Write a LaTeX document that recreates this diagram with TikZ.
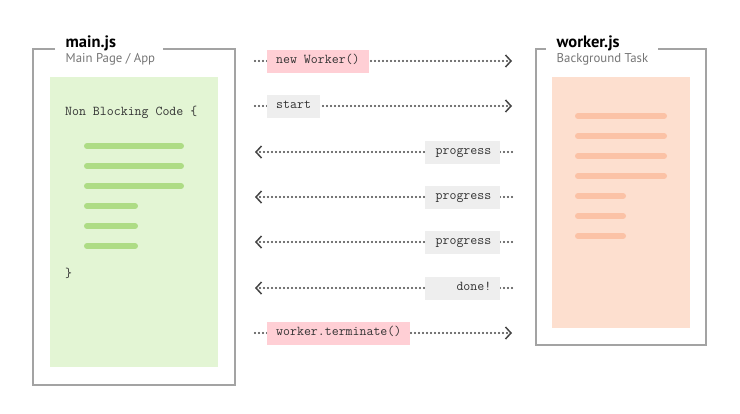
\documentclass[tikz,border=0pt]{standalone}
\usepackage{fontspec}
\setmainfont{PT Sans}
\usepackage{xcolor}
\usepackage{tikz}
\usetikzlibrary{arrows.meta}

\definecolor{framegray}{HTML}{A3A3A3}
\definecolor{subgray}{HTML}{757575}
\definecolor{dotgray}{HTML}{444444}
\definecolor{codegray}{HTML}{333333}
\definecolor{mainbg}{HTML}{E3F5D4}
\definecolor{mainbar}{HTML}{AEDC85}
\definecolor{workbg}{HTML}{FDDFCF}
\definecolor{workbar}{HTML}{FBC2A6}
\definecolor{callpink}{HTML}{FFCFD5}
\definecolor{msggray}{HTML}{EEEEEE}

\tikzset{
  frame/.style={draw=framegray, line width=1.6pt},
  bar/.style={line width=6pt, line cap=round},
  title/.style={anchor=base west, inner sep=0pt, font=\bfseries\fontsize{16.5}{19}\selectfont},
  subtitle/.style={anchor=base west, inner sep=0pt, text=subgray, font=\fontsize{12.8}{15}\selectfont},
  code/.style={anchor=west, inner sep=0pt, text=codegray, font=\ttfamily\fontsize{13.5}{16}\selectfont},
  msg/.style={draw=dotgray, line width=2.3pt, line cap=round, dash pattern=on 0pt off 4pt,
    -{Straight Barb[length=5.5pt, width=12pt, line width=1.5pt]}},
  label/.style={inner xsep=9pt, inner ysep=0pt, minimum height=23pt, text height=8pt, text depth=2.5pt,
    text=codegray, font=\ttfamily\fontsize{13.5}{16}\selectfont},
  tocall/.style={label, anchor=west, fill=callpink},
  tostart/.style={label, anchor=west, fill=msggray},
  toback/.style={label, anchor=east, fill=msggray, text width=57pt, align=right},
}

\begin{document}
\begin{tikzpicture}[x=1pt, y=-1pt]
\useasboundingbox (0,0) rectangle (740,413);

% main.js
\draw[frame] (55,49) -- (33,49) -- (33,385) -- (235,385) -- (235,49) -- (163,49);
\fill[mainbg] (50,77) rectangle (218,367);
\node[title] (mainTitle) at (65.5,47) {main.js};
\node[subtitle] (mainSub) at (65.5,62) {Main Page / App};
\node[code] (codeOpen) at (65,112) {Non Blocking Code \{};
\draw[bar, mainbar] (87,146) -- (181,146);
\draw[bar, mainbar] (87,166) -- (181,166);
\draw[bar, mainbar] (87,186) -- (181,186);
\draw[bar, mainbar] (87,206) -- (135,206);
\draw[bar, mainbar] (87,226) -- (135,226);
\draw[bar, mainbar] (87,246) -- (135,246);
\node[code] (codeClose) at (65,273) {\}};

% worker.js
\draw[frame] (546,49) -- (536,49) -- (536,345) -- (706,345) -- (706,49) -- (658,49);
\fill[workbg] (552,77) rectangle (690,328);
\node[title] (workerTitle) at (556.5,47) {worker.js};
\node[subtitle] (workerSub) at (556.5,62) {Background Task};
\draw[bar, workbar] (578,116) -- (664,116);
\draw[bar, workbar] (578,136) -- (664,136);
\draw[bar, workbar] (578,156) -- (664,156);
\draw[bar, workbar] (578,176) -- (664,176);
\draw[bar, workbar] (578,196) -- (623,196);
\draw[bar, workbar] (578,216) -- (623,216);
\draw[bar, workbar] (578,236) -- (623,236);

% messages
\coordinate (main1) at (255,61);  \coordinate (work1) at (512,61);
\coordinate (main2) at (255,106); \coordinate (work2) at (512,106);
\coordinate (main3) at (255,152); \coordinate (work3) at (512,152);
\coordinate (main4) at (255,197); \coordinate (work4) at (512,197);
\coordinate (main5) at (255,242); \coordinate (work5) at (512,242);
\coordinate (main6) at (255,288); \coordinate (work6) at (512,288);
\coordinate (main7) at (255,333); \coordinate (work7) at (512,333);

\draw[msg] (main1) -- (work1);
\draw[msg] (main2) -- (work2);
\draw[msg] (work3) -- (main3);
\draw[msg] (work4) -- (main4);
\draw[msg] (work5) -- (main5);
\draw[msg] (work6) -- (main6);
\draw[msg] (main7) -- (work7);

\node[tocall] (newWorker) at (267,61) {new Worker()};
\node[tostart] (start) at (267,106) {start};
\node[toback] (progressA) at (500.5,152) {progress};
\node[toback] (progressB) at (500.5,197) {progress};
\node[toback] (progressC) at (500.5,242) {progress};
\node[toback] (done) at (500.5,288) {done!};
\node[tocall] (terminate) at (267,333) {worker.terminate()};
\end{tikzpicture}
\end{document}
